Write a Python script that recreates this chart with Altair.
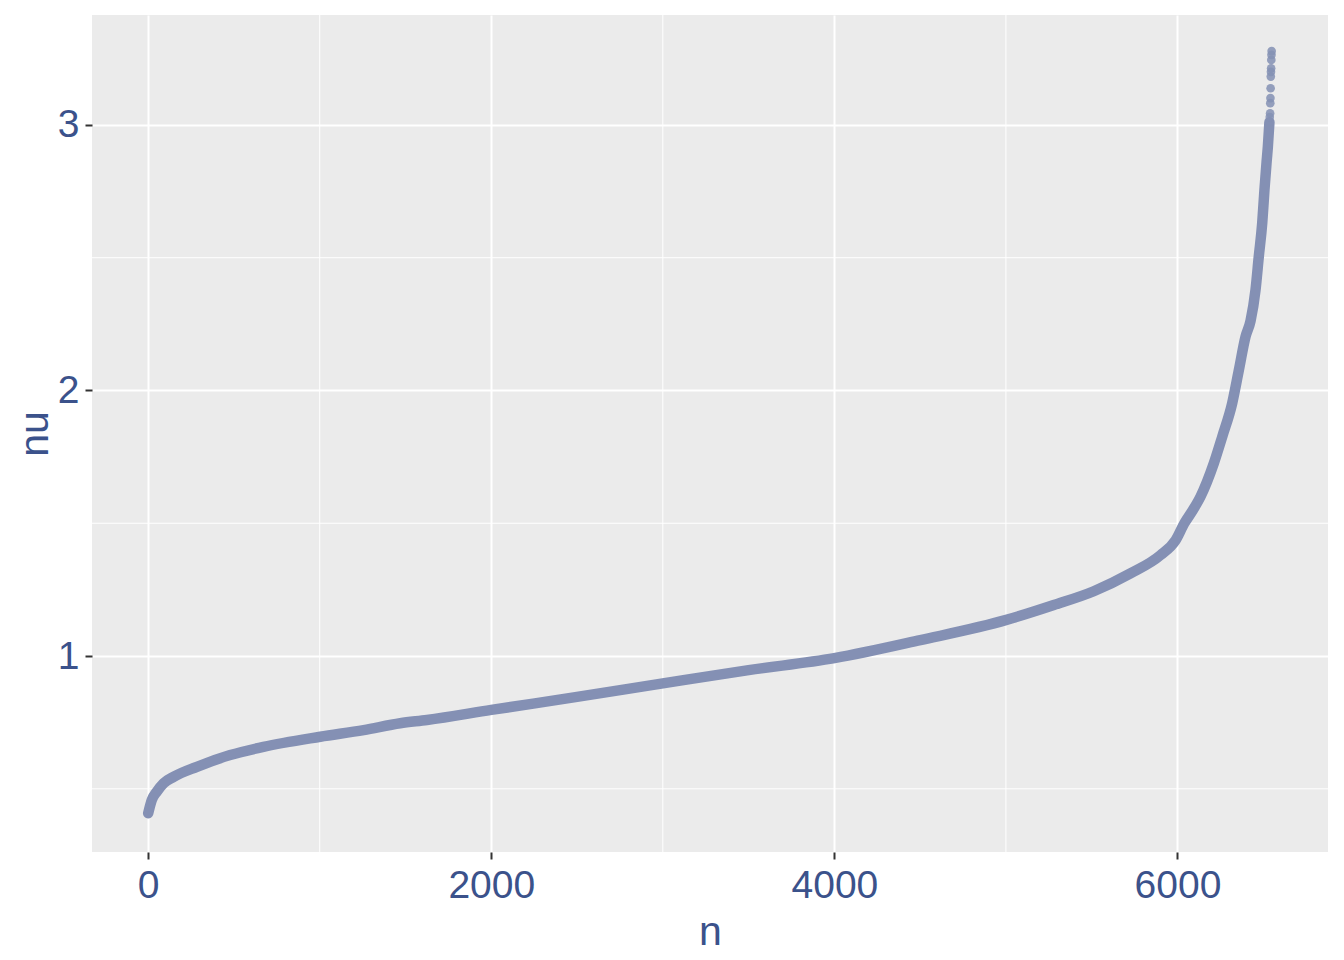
import altair as alt
import pandas as pd

# Sorted nu values (dense part drawn as a thick trace)
curve_n = [0, 21, 50, 90, 148, 284, 478, 672, 1003, 1256, 1469, 1625, 2000, 2500,
           3000, 3500, 4000, 4501, 5003, 5279, 5512, 5726, 5901, 5990, 6040, 6090,
           6134, 6212, 6261, 6319, 6358, 6397, 6426, 6455, 6474, 6494, 6507, 6519,
           6527, 6536]
curve_nu = [0.408, 0.458, 0.489, 0.521, 0.545, 0.583, 0.627, 0.658, 0.696, 0.721,
            0.747, 0.759, 0.797, 0.846, 0.897, 0.947, 0.992, 1.060, 1.136, 1.192,
            1.244, 1.311, 1.380, 1.437, 1.500, 1.550, 1.600, 1.726, 1.826, 1.952,
            2.077, 2.203, 2.262, 2.379, 2.504, 2.630, 2.755, 2.856, 2.918, 3.010]

# Sparse upper tail points
tail_n = [6538, 6540, 6541, 6542, 6543, 6544, 6545, 6546, 6547, 6548, 6549]
tail_nu = [3.030, 3.044, 3.082, 3.101, 3.138, 3.182, 3.200, 3.213, 3.245, 3.264, 3.278]

x_major = [0, 2000, 4000, 6000]
x_minor = [1000, 3000, 5000]
y_major = [1, 2, 3]
y_minor = [0.5, 1.5, 2.5]

curve = pd.DataFrame({"n": curve_n, "nu": curve_nu})
tail = pd.DataFrame({"n": tail_n, "nu": tail_nu})
vminor = pd.DataFrame({"n": x_minor})
hminor = pd.DataFrame({"nu": y_minor})

TXT = "#3B528B"
FONT = "Liberation Sans"
PT = "#8490B4"

xs = alt.Scale(domain=[-327.5, 6877.5], nice=False, zero=False)
ys = alt.Scale(domain=[0.262, 3.414], nice=False, zero=False)

x_axis = alt.Axis(values=x_major, format="d", title="n", grid=True, gridColor="white",
                  gridWidth=2, domain=False, tickSize=7, tickWidth=2, tickColor="#333333",
                  labelFont=FONT, labelFontSize=39, labelColor=TXT, labelPadding=7,
                  labelFlush=False, labelOverlap=False,
                  titleFont=FONT, titleFontSize=41, titleFontWeight="normal",
                  titleColor=TXT, titleBaseline="alphabetic", titleY=92)
y_axis = alt.Axis(values=y_major, format="d", title="nu", grid=True, gridColor="white",
                  gridWidth=2, domain=False, tickSize=7, tickWidth=2, tickColor="#333333",
                  labelFont=FONT, labelFontSize=39, labelColor=TXT, labelPadding=6,
                  labelFlush=False, labelOverlap=False,
                  titleFont=FONT, titleFontSize=41, titleFontWeight="normal",
                  titleColor=TXT, titleBaseline="alphabetic", titleAlign="center",
                  titleAngle=270, titleX=-45, titleY=418.5)

vrules = alt.Chart(vminor).mark_rule(color="white", strokeWidth=1).encode(
    x=alt.X("n:Q", scale=xs, axis=x_axis))
hrules = alt.Chart(hminor).mark_rule(color="white", strokeWidth=1).encode(
    y=alt.Y("nu:Q", scale=ys, axis=y_axis))

line = alt.Chart(curve).mark_line(color=PT, strokeWidth=10.5, strokeCap="round",
                                  strokeJoin="round", interpolate="monotone").encode(
    x=alt.X("n:Q", scale=xs, axis=x_axis),
    y=alt.Y("nu:Q", scale=ys, axis=y_axis),
    order="n:Q")

pts = alt.Chart(tail).mark_circle(color=PT, opacity=0.85, size=75).encode(
    x=alt.X("n:Q", scale=xs, axis=x_axis),
    y=alt.Y("nu:Q", scale=ys, axis=y_axis))

chart = alt.layer(vrules, hrules, line, pts).properties(
    width=1236, height=837,
    autosize=alt.AutoSizeParams(type="none"),
    padding={"left": 84, "top": 7, "right": 8, "bottom": 100},
    background="white",
).configure_view(fill="#EBEBEB", strokeWidth=0)

chart.save("out.html", embed_options={"renderer": "svg", "actions": False})
